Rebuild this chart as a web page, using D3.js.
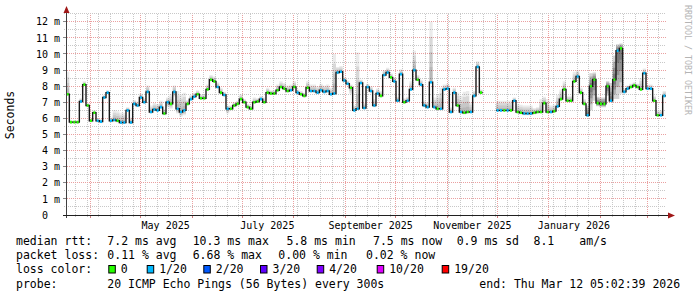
<!DOCTYPE html>
<html>
<head>
<meta charset="utf-8">
<script src="https://cdn.jsdelivr.net/npm/d3@7"></script>
<style>
  html, body { margin: 0; padding: 0; background: #fff; }
  svg { display: block; font-family: "DejaVu Sans Mono", monospace; }
</style>
</head>
<body>
<div id="chart"></div>
<script>
// time window of the graph (last 360 days, one sample every 2 days)
const endTime = new Date("2026-03-12T05:02:39Z");
const spanDays = 360;
const stepDays = 2;

// median rtt per sample, ms (null = no data)
const median = [
  7.5, 5.77, 5.77, 5.77, 7.05, 8.1, 6.8, 5.85, 6.35, 5.85,
  5.8, 7.3, 7.6, 5.85, 5.9, 5.85, 5.75, 5.75, 6.5, 5.75,
  6.9, 6.8, 7.3, 7.0, 7.65, 6.4, 6.55, 6.5, 6.7, 6.3,
  7.0, 6.9, 7.65, 6.6, 6.4, 6.5, 6.9, 7.2, 7.35, 7.5,
  7.25, 7.25, 7.8, 8.4, 8.3, 7.95, 7.6, 7.45, 6.6, 6.6,
  6.8, 6.9, 7.2, 7.0, 6.7, 6.6, 7.0, 7.05, 7.2, 7.0,
  7.6, 7.55, 7.55, 7.75, 7.95, 7.85, 7.7, 7.75, 7.95, 7.6,
  7.5, 7.4, 7.9, 7.7, 7.7, 7.6, 7.75, 7.65, 7.7, 7.5,
  7.55, 8.85, 8.9, 8.35, 8.15, 7.9, 6.5, 6.6, 8.2, 6.65,
  7.95, 7.7, 6.8, 7.55, 7.4, 8.7, 8.85, 8.55, 8.3, 7.1,
  8.75, 7.0, 7.1, 7.8, 9.0, 8.4, 8.1, 6.8, 6.7, 8.25,
  6.7, 6.6, 6.6, 7.8, 7.85, 6.4, 7.6, 6.8, 6.4, 6.35,
  6.4, 6.4, 7.4, 9.2, 7.6, null, null, null, null, 6.5,
  6.5, 6.5, 6.5, 6.5, 7.1, 6.4, 6.35, 6.3, 6.3, 6.3,
  6.35, 6.4, 6.4, 6.95, 6.4, 6.4, 6.45, 6.75, 7.2, 7.8,
  7.1, 7.1, 8.3, 8.6, 7.6, 6.9, 6.2, 8.0, 8.4, 6.95,
  6.9, 6.9, 8.0, 7.1, 8.4, 10.2, 10.35, 7.65, 7.85, 7.95,
  8.05, 7.95, 7.8, 8.8, 7.85, 7.85, 7.1, 6.2, 6.2, 7.4
];

// loss class per sample (index into lossColors)
const loss = [
  0, 0, 0, 0, 1, 0, 0, 0, 0, 1,
  1, 1, 1, 1, 1, 0, 1, 1, 1, 1,
  1, 1, 1, 1, 1, 1, 1, 1, 1, 0,
  1, 0, 1, 1, 1, 1, 0, 1, 1, 0,
  0, 0, 0, 0, 0, 1, 0, 1, 1, 0,
  0, 0, 0, 0, 0, 0, 0, 0, 1, 0,
  0, 0, 0, 0, 0, 0, 0, 1, 0, 1,
  0, 0, 0, 1, 1, 1, 1, 1, 1, 1,
  1, 1, 1, 1, 1, 0, 1, 1, 1, 1,
  1, 1, 1, 1, 0, 1, 1, 0, 1, 1,
  1, 0, 1, 1, 1, 0, 1, 1, 1, 1,
  1, 0, 1, 1, 1, 1, 1, 0, 1, 0,
  0, 1, 1, 1, 0, 0, 0, 0, 0, 1,
  1, 0, 1, 0, 1, 0, 0, 1, 1, 1,
  0, 0, 0, 0, 0, 1, 0, 1, 0, 0,
  0, 0, 0, 1, 0, 0, 1, 0, 0, 0,
  0, 0, 0, 1, 0, 1, 0, 1, 1, 0,
  0, 0, 0, 1, 1, 1, 0, 0, 1, 1
];

// smoke extent above / below the median, ms
const smokeUp = [
  1.4, 0.1, 0.1, 0.1, 0.2, 0.2, 0.15, 0.15, 0.15, 0.15,
  0.15, 0.15, 0.15, 0.2, 0.6, 0.6, 0.6, 0.6, 0.2, 0.3,
  0.25, 0.25, 0.25, 0.25, 0.4, 0.4, 0.4, 0.4, 0.4, 0.3,
  0.3, 0.6, 0.4, 1.1, 1.1, 1.1, 0.25, 0.25, 0.25, 0.25,
  0.25, 0.25, 0.3, 0.3, 0.3, 0.3, 0.3, 0.2, 0.2, 0.2,
  0.2, 0.2, 0.3, 0.2, 0.2, 0.2, 0.3, 0.2, 0.2, 0.3,
  0.3, 0.2, 0.2, 0.35, 0.35, 0.35, 0.35, 0.35, 0.35, 0.2,
  0.2, 0.2, 0.4, 0.4, 0.4, 0.4, 0.4, 0.4, 0.4, 0.4,
  2.45, 0.35, 0.35, 0.2, 0.2, 0.2, 0.3, 3.5, 0.2, 0.3,
  0.2, 0.3, 0.4, 0.3, 0.3, 0.3, 0.3, 0.25, 0.25, 0.25,
  0.3, 0.25, 0.25, 0.5, 1.2, 0.3, 0.3, 0.3, 0.3, 3.75,
  0.6, 0.9, 1.3, 0.3, 0.3, 0.3, 0.3, 0.8, 1.0, 1.3,
  1.3, 0.6, 0.3, 0.35, 0.2, 0, 0, 0, 0, 0.6,
  0.6, 0.6, 0.6, 0.6, 0.2, 0.5, 0.5, 0.5, 0.5, 0.5,
  0.3, 0.3, 0.8, 0.4, 0.8, 0.4, 0.4, 0.7, 0.6, 0.5,
  0.3, 0.3, 0.6, 0.4, 0.3, 0.3, 0.6, 0.8, 0.45, 0.4,
  0.4, 0.4, 0.3, 1.1, 1.5, 0.4, 0.3, 0.2, 0.2, 0.2,
  0.2, 0.2, 0.7, 0.3, 0.25, 0.25, 0.3, 0.3, 0.3, 0.3
];
const smokeDown = [
  0.1, 0.1, 0.1, 0.1, 0.1, 0.1, 0.1, 0.1, 0.1, 0.1,
  0.1, 0.1, 0.1, 0.1, 0.1, 0.1, 0.1, 0.1, 0.1, 0.1,
  0.1, 0.1, 0.1, 0.1, 0.1, 0.1, 0.1, 0.1, 0.1, 0.1,
  0.3, 0.3, 0.3, 0.3, 0.3, 0.3, 0.1, 0.1, 0.1, 0.1,
  0.1, 0.1, 0.1, 0.1, 0.1, 0.1, 0.1, 0.1, 0.3, 0.1,
  0.1, 0.1, 0.1, 0.1, 0.1, 0.1, 0.1, 0.1, 0.1, 0.1,
  0.1, 0.1, 0.1, 0.1, 0.1, 0.1, 0.1, 0.1, 0.1, 0.1,
  0.1, 0.1, 0.1, 0.1, 0.1, 0.1, 0.1, 0.1, 0.1, 0.1,
  0.1, 0.1, 0.1, 0.1, 0.1, 0.4, 0.1, 0.1, 0.1, 0.1,
  0.1, 0.1, 0.1, 0.1, 0.1, 0.1, 0.1, 0.1, 0.1, 0.1,
  0.1, 0.1, 0.1, 0.1, 0.1, 0.1, 0.1, 0.1, 0.1, 0.1,
  0.1, 0.1, 0.1, 0.1, 0.1, 0.1, 0.1, 0.1, 0.1, 0.1,
  0.1, 0.1, 0.1, 0.1, 0.1, 0, 0, 0, 0, 0.1,
  0.1, 0.1, 0.1, 0.1, 0.1, 0.1, 0.1, 0.1, 0.1, 0.1,
  0.1, 0.1, 0.1, 0.1, 0.1, 0.1, 0.1, 0.1, 0.1, 0.1,
  0.1, 0.1, 0.1, 0.1, 0.1, 0.1, 0.1, 1.5, 1.3, 0.2,
  0.2, 0.2, 0.6, 0.1, 1.2, 3.0, 2.8, 0.1, 0.1, 0.1,
  0.1, 0.1, 0.1, 0.1, 0.1, 0.1, 0.1, 0.1, 0.1, 0.1
];
// sample ranges where the pings are widely spread (dark smoke)
const denseSmoke = [[156, 166]];

const yTicks = [0, 1, 2, 3, 4, 5, 6, 7, 8, 9, 10, 11, 12];
const monthLabels = ["May 2025", "July 2025", "September 2025", "November 2025", "January 2026"];
const monthLabelDates = ["2025-05-01", "2025-07-01", "2025-09-01", "2025-11-01", "2026-01-01"];

const lossColors = ["#26ff00", "#00b8ff", "#0059ff", "#5e00ff", "#7e00ff", "#dd00ff", "#ff0000"];
const lossLabels = ["0", "1/20", "2/20", "3/20", "4/20", "10/20", "19/20"];

const rttStats = ["7.2 ms avg", "10.3 ms max", "5.8 ms min", "7.5 ms now", "0.9 ms sd", "8.1"];
const rttUnit = "am/s";
const lossStats = ["0.11 % avg", "6.68 % max", "0.00 % min", "0.02 % now"];
const probeText = "20 ICMP Echo Pings (56 Bytes) every 300s";
const endText = "end: Thu Mar 12 05:02:39 2026";


class SmokeGraph {

  constructor(element) {
    this.element = element;
    this.width = 697;
    this.height = 297;
    this.plot = {left: 66, right: 666, top: 13.75, bottom: 215};
    this.start = d3.utcDay.offset(endTime, -spanDays);
    this.draw();
  }


  draw() {
    this.svg = d3.select(this.element)
      .append("svg")
      .attr("width", this.width)
      .attr("height", this.height);

    this.svg.append("rect")
      .attr("width", this.width).attr("height", this.height).attr("fill", "#fff");

    this._createScales();
    this._drawGrid();
    this._drawSmoke();
    this._drawMedian();
    this._drawAxes();
    this._drawLegend();
  }


  _createScales() {
    const p = this.plot;
    this.x = d3.scaleUtc()
      .domain([this.start, endTime])
      .range([p.left, p.right]);
    this.y = d3.scaleLinear()
      .domain([0, 12.5])
      .range([p.bottom, p.top]);
  }


  _t(i) {
    return d3.utcDay.offset(this.start, i * stepDays);
  }


  // step points for one sample per interval, broken where not included
  _stepPoints(include, lo, hi, inset) {
    const pts = [];
    const dt = (inset || 0) * 3600e3 * 24 * spanDays / (this.plot.right - this.plot.left);
    median.forEach((v, i) => {
      if (v == null || !include(i)) { pts.push({gap: true}); return; }
      pts.push({t: new Date(+this._t(i) + dt), lo: lo(i), hi: hi(i)});
      pts.push({t: new Date(+this._t(i + 1) - dt), lo: lo(i), hi: hi(i)});
      if (inset) pts.push({gap: true});
    });
    return pts;
  }


  _drawGrid() {
    const p = this.plot;
    const px = v => Math.floor(v) + 0.5;
    const g = this.svg.append("g").attr("fill", "none");

    // minor: every half ms, every week
    g.selectAll(".hminor")
      .data(this.y.ticks(25).filter(d => d % 1 !== 0))
      .join("line")
        .attr("x1", p.left - 2).attr("x2", p.right)
        .attr("y1", d => px(this.y(d))).attr("y2", d => px(this.y(d)))
        .attr("stroke", "#c8c8c8").attr("stroke-dasharray", "1,1");

    const months = d3.utcMonth.range(this.start, endTime);
    const weeks = d3.utcSunday.range(this.start, endTime)
      .filter(w => !months.some(m => Math.abs(this.x(m) - this.x(w)) < 1));

    g.selectAll(".vminor")
      .data(weeks)
      .join("line")
        .attr("x1", d => px(this.x(d))).attr("x2", d => px(this.x(d)))
        .attr("y1", p.bottom + 2).attr("y2", p.top)
        .attr("stroke", "#c8c8c8").attr("stroke-dasharray", "1,1");

    // major: every ms, every month
    g.selectAll(".hmajor")
      .data(yTicks.filter(d => d > 0))
      .join("line")
        .attr("x1", p.left - 3).attr("x2", p.right)
        .attr("y1", d => px(this.y(d))).attr("y2", d => px(this.y(d)))
        .attr("stroke", "#eaa0a0").attr("stroke-dasharray", "1,1");

    g.selectAll(".vmajor")
      .data(months)
      .join("line")
        .attr("x1", d => px(this.x(d))).attr("x2", d => px(this.x(d)))
        .attr("y1", p.bottom + 3).attr("y2", p.top)
        .attr("stroke", "#eaa0a0").attr("stroke-dasharray", "1,1");

    // solid tick stubs at the axes
    g.selectAll(".ytick")
      .data(yTicks)
      .join("line")
        .attr("x1", p.left - 3).attr("x2", p.left)
        .attr("y1", d => px(this.y(d))).attr("y2", d => px(this.y(d)))
        .attr("stroke", "#888");
    g.selectAll(".xtick")
      .data(months)
      .join("line")
        .attr("x1", d => px(this.x(d))).attr("x2", d => px(this.x(d)))
        .attr("y1", p.bottom).attr("y2", p.bottom + 3)
        .attr("stroke", "#d08080");
  }


  _drawSmoke() {
    const isDense = i => denseSmoke.some(([a, b]) => i >= a && i <= b);
    const area = d3.area()
      .defined(d => !d.gap)
      .x(d => this.x(d.t))
      .y0(d => this.y(d.lo))
      .y1(d => this.y(d.hi));

    const g = this.svg.append("g");
    [false, true].forEach(dense => {
      [1, 0.75, 0.5, 0.25].forEach(k => {
        const pts = this._stepPoints(
          i => isDense(i) === dense,
          i => median[i] - smokeDown[i] * k,
          i => median[i] + smokeUp[i] * k);
        g.append("path")
          .attr("d", area(pts))
          .attr("fill", "#000")
          .attr("fill-opacity", dense ? 0.17 : 0.08);
      });
    });
  }


  _drawMedian() {
    const line = d3.line()
      .defined(d => !d.gap)
      .x(d => this.x(d.t))
      .y(d => this.y(d.lo));

    this.svg.append("path")
      .attr("d", line(this._stepPoints(() => true, i => median[i], i => median[i])))
      .attr("fill", "none")
      .attr("stroke", "#1a1a1a")
      .attr("stroke-width", 1.4);

    const band = d3.area()
      .defined(d => !d.gap)
      .x(d => this.x(d.t))
      .y0(d => this.y(d.lo) + 1.3)
      .y1(d => this.y(d.hi) - 1.3);

    this.svg.append("g")
      .selectAll("path")
      .data(lossColors)
      .join("path")
        .attr("d", (c, ci) => band(this._stepPoints(i => loss[i] === ci, i => median[i], i => median[i], 0.7)))
        .attr("fill", c => c);
  }


  _drawAxes() {
    const p = this.plot;
    const g = this.svg.append("g");

    g.append("line")
      .attr("x1", p.left + 0.5).attr("x2", p.left + 0.5)
      .attr("y1", p.bottom + 3).attr("y2", 9)
      .attr("stroke", "#404040");
    g.append("line")
      .attr("x1", p.left - 3).attr("x2", p.right + 3)
      .attr("y1", p.bottom + 0.5).attr("y2", p.bottom + 0.5)
      .attr("stroke", "#202020");

    g.append("path")
      .attr("d", `M${p.left - 2.5},13 L${p.left + 3.5},13 L${p.left + 0.5},6 Z`)
      .attr("fill", "#a01818");
    g.append("path")
      .attr("d", `M${p.right + 2},${p.bottom - 2.5} L${p.right + 2},${p.bottom + 3.5} L${p.right + 9},${p.bottom + 0.5} Z`)
      .attr("fill", "#a01818");

    g.selectAll(".ylab")
      .data(yTicks)
      .join("text")
        .attr("x", p.left - 6)
        .attr("y", d => this.y(d) + 3.6)
        .attr("text-anchor", "end")
        .attr("xml:space", "preserve")
        .style("white-space", "pre")
        .attr("font-size", "10px")
        .text(d => d === 0 ? "0  " : `${d} m`);

    g.selectAll(".xlab")
      .data(monthLabelDates)
      .join("text")
        .attr("x", d => this.x(d3.utcDay.offset(new Date(d + "T00:00:00Z"), 15)))
        .attr("y", 229)
        .attr("text-anchor", "middle")
        .attr("font-size", "10px")
        .text((d, i) => monthLabels[i]);

    g.append("text")
      .attr("transform", "translate(14,115) rotate(-90)")
      .attr("text-anchor", "middle")
      .attr("font-size", "11.5px")
      .text("Seconds");

    g.append("text")
      .attr("transform", "translate(685,5) rotate(90)")
      .attr("text-anchor", "start")
      .attr("font-size", "8.3px")
      .attr("fill", "#b4b4b4")
      .text("RRDTOOL / TOBI OETIKER");
  }


  _drawLegend() {
    const g = this.svg.append("g").attr("font-size", "11.5px").attr("fill", "#000");
    const x0 = 16;
    const rows = [244.6, 259.2, 273.2, 287.6];
    // measured column starts of the rrdtool legend fields
    const rttX = [107.3, 192.7, 286.5, 373, 456.7, 533.5];
    const lossX = [107.3, 192.7, 278.3, 366];
    const boxX = [108.3, 146.7, 203.3, 260, 316.7, 376.7, 441.7];

    const put = (x, y, s, anchor) => g.append("text")
      .attr("x", x).attr("y", y)
      .attr("text-anchor", anchor || "start")
      .attr("xml:space", "preserve")
      .style("white-space", "pre")
      .text(s);

    put(x0, rows[0], "median rtt:");
    rttStats.forEach((s, i) => put(rttX[i], rows[0], s));
    put(579.3, rows[0], rttUnit);

    put(x0, rows[1], "packet loss:");
    lossStats.forEach((s, i) => put(lossX[i], rows[1], s));

    put(x0, rows[2], "loss color:");
    lossLabels.forEach((s, i) => {
      g.append("rect")
        .attr("x", boxX[i] + 0.5).attr("y", 265.5)
        .attr("width", 6.5).attr("height", 7.5)
        .attr("fill", lossColors[i])
        .attr("stroke", "#000");
      put(boxX[i] + 12.5, rows[2], s);
    });

    put(x0, rows[3], "probe:");
    put(107.3, rows[3], probeText);
    put(479.3, rows[3], endText);
  }

}

new SmokeGraph(document.getElementById("chart"));
</script>
</body>
</html>
